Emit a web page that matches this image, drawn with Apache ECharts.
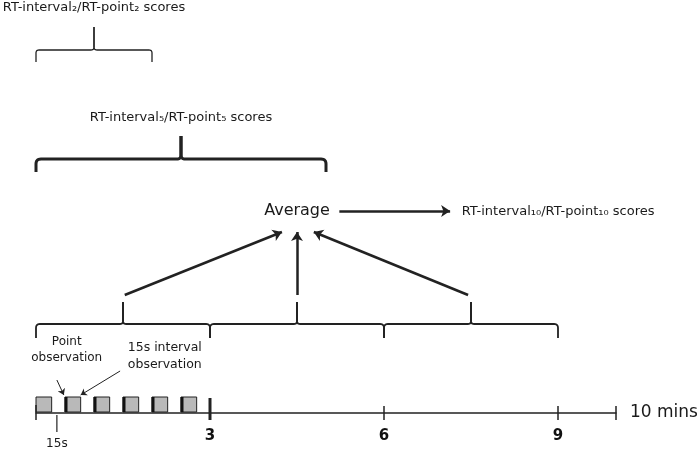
<!DOCTYPE html>
<html><head><meta charset="utf-8">
<script src="https://cdn.jsdelivr.net/npm/echarts@6/dist/echarts.min.js"></script>
<style>html,body{margin:0;padding:0;background:#fff}#c{width:700px;height:451px}</style>
</head><body><div id="c"></div>
<script>
// ---- data (minutes on the time line) ----
const axisMax = 10;
const axisInterval = 3;
const axisLabelValues = [3, 6, 9];
const tickValues = [0, 3, 6, 9, 10];
const majorTick = 3;
const fifteenSecTick = 0.36;
const boxStarts = [0, 0.5, 1, 1.5, 2, 2.5];
const boxLength = 0.27;
const pointMarked = [false, true, true, true, true, true];
const windows3 = [[0, 3], [3, 6], [6, 9]];
const window2 = [0, 2];
const window5 = [0, 5];
const averageAt = 4.5;
const labelRT2 = 'RT-interval₂/RT-point₂ scores';
const labelRT5 = 'RT-interval₅/RT-point₅ scores';
const labelRT10 = 'RT-interval₁₀/RT-point₁₀ scores';
const labelAverage = 'Average';
const labelPoint = 'Point\nobservation';
const labelInterval = '15s interval\nobservation';
const label15s = '15s';
const labelEnd = '10 mins';

// ---- layout rows (vertical units of the hidden y scale) ----
const rows = {
  t2: 8, b2H: 50, b2Peak: 27, b2End: 62,
  t5: 118, b5H: 159, b5Peak: 136, b5End: 172,
  avg: 211, arrowFrom: 295, arrowTo: 232,
  b10H: 324, b10Peak: 302, b10End: 338,
  boxTop: 397, boxBottom: 412, axis: 413
};
const ink = '#222';
const FONT = '"DejaVu Sans", Verdana, sans-serif';

function quad(p0, p1, p2, n) {
  const pts = [];
  for (let i = 1; i <= n; i++) {
    const t = i / n, u = 1 - t;
    pts.push([u*u*p0[0] + 2*u*t*p1[0] + t*t*p2[0], u*u*p0[1] + 2*u*t*p1[1] + t*t*p2[1]]);
  }
  return pts;
}
function braceHalf(xe, xc, yH, yPeak, yEnd, r, rc) {
  const s = xc > xe ? 1 : -1;
  let pts = [[xe, yEnd], [xe, yH + r]];
  pts = pts.concat(quad([xe, yH + r], [xe, yH], [xe + s*r, yH], 6));
  pts.push([xc - s*rc, yH]);
  pts = pts.concat(quad([xc - s*rc, yH], [xc, yH], [xc, yH - rc], 6));
  pts.push([xc, yPeak]);
  return pts;
}
function braceItem(api, a, b, yH, yPeak, yEnd, r, rc, w) {
  const x0 = api.coord([a, yH])[0], x1 = api.coord([b, yH])[0];
  const y = v => api.coord([0, v])[1];
  const xc = (x0 + x1) / 2;
  const st = {stroke: ink, lineWidth: w, fill: null, lineJoin: 'round'};
  return [
    {type: 'polyline', shape: {points: braceHalf(x0, xc, y(yH), y(yPeak), y(yEnd), r, rc)}, style: st},
    {type: 'polyline', shape: {points: braceHalf(x1, xc, y(yH), y(yPeak), y(yEnd), r, rc)}, style: st}
  ];
}

const braceData = [
  {w: window2, rows: ['b2H', 'b2Peak', 'b2End'], r: 3, rc: 3, lw: 1.3},
  {w: window5, rows: ['b5H', 'b5Peak', 'b5End'], r: 5, rc: 4, lw: 3}
].concat(windows3.map(w => ({w: w, rows: ['b10H', 'b10Peak', 'b10End'], r: 4, rc: 3, lw: 1.8})));

const texts = [
  {t: labelRT2, x: (window2[0] + window2[1]) / 2, y: rows.t2, size: 13, align: 'center'},
  {t: labelRT5, x: (window5[0] + window5[1]) / 2, y: rows.t5, size: 13, align: 'center'},
  {t: labelAverage, x: averageAt, y: rows.avg, size: 16, align: 'center'},
  {t: labelRT10, x: averageAt + 2.84, y: rows.avg + 1, size: 13, align: 'left'},
  {t: labelPoint, x: boxStarts[1] + 0.03, y: 350, size: 12, align: 'center', lh: 16},
  {t: labelInterval, x: 2.22, y: 356, size: 12.5, align: 'center', lh: 17},
  {t: label15s, x: fifteenSecTick, y: 444, size: 12, align: 'center'},
  {t: labelEnd, x: axisMax + 0.24, y: rows.axis, size: 17, align: 'left'}
];

const arrowLines = [
  {coords: [[(windows3[0][0] + windows3[0][1]) / 2 + 0.03, rows.arrowFrom], [averageAt - 0.26, rows.arrowTo]]},
  {coords: [[(windows3[1][0] + windows3[1][1]) / 2, rows.arrowFrom], [averageAt, rows.arrowTo]]},
  {coords: [[(windows3[2][0] + windows3[2][1]) / 2 - 0.05, rows.arrowFrom], [averageAt + 0.29, rows.arrowTo]]},
  {coords: [[averageAt + 0.73, rows.avg], [averageAt + 2.64, rows.avg]]}
];
const pointerLines = [
  {coords: [[boxStarts[1] - 0.14, 380], [boxStarts[1] - 0.02, 395]]},
  {coords: [[boxStarts[1] + 0.95, 371], [boxStarts[1] + 0.27, 395]]}
];

const chart = echarts.init(document.getElementById('c'), null, {renderer: 'canvas'});
chart.setOption({
  animation: false,
  backgroundColor: '#fff',
  grid: {left: 36, right: 84, top: 0, bottom: 451 - rows.axis},
  xAxis: {
    type: 'value', min: 0, max: axisMax, interval: axisInterval, position: 'bottom',
    axisLine: {show: true, onZero: false, lineStyle: {color: ink, width: 1.5}},
    axisTick: {show: false}, splitLine: {show: false},
    axisLabel: {
      margin: 16, fontSize: 15, fontWeight: 'bold', color: '#111', fontFamily: FONT,
      formatter: v => axisLabelValues.indexOf(v) >= 0 ? String(v) : ''
    }
  },
  yAxis: {type: 'value', min: 0, max: rows.axis, inverse: true, show: false},
  series: [
    { // braces
      type: 'custom', silent: true, clip: false,
      data: braceData.map((d, i) => [i]),
      renderItem: (params, api) => {
        const d = braceData[params.dataIndex];
        return {type: 'group', children: braceItem(api, d.w[0], d.w[1], rows[d.rows[0]], rows[d.rows[1]], rows[d.rows[2]], d.r, d.rc, d.lw)};
      }
    },
    { // observation boxes
      type: 'custom', silent: true, clip: false,
      data: boxStarts.map((s, i) => [s, s + boxLength, pointMarked[i] ? 1 : 0]),
      renderItem: (params, api) => {
        const p0 = api.coord([api.value(0), rows.boxTop]);
        const p1 = api.coord([api.value(1), rows.boxBottom]);
        const ch = [{type: 'rect', shape: {x: p0[0], y: p0[1], width: p1[0] - p0[0], height: p1[1] - p0[1]},
          style: {fill: '#b9b9b9', stroke: ink, lineWidth: 1}}];
        if (api.value(2)) ch.push({type: 'line', shape: {x1: p0[0] + 1, y1: p0[1], x2: p0[0] + 1, y2: p1[1]},
          style: {stroke: '#111', lineWidth: 3}});
        return {type: 'group', children: ch};
      }
    },
    { // time-line ticks
      type: 'custom', silent: true, clip: false,
      data: tickValues.map(v => [v]).concat([[fifteenSecTick, 1]]),
      renderItem: (params, api) => {
        const v = api.value(0);
        const is15 = api.value(1) === 1;
        const x = api.coord([v, 0])[0];
        const y = t => api.coord([0, t])[1];
        let top = rows.axis - 7, bot = rows.axis + 7, w = 1.5;
        if (v === majorTick) { top = rows.axis - 15; w = 3; }
        if (v === 0) { top = rows.axis - 8; }
        if (is15) { top = rows.axis + 2; bot = rows.axis + 19; w = 1.2; }
        return {type: 'line', shape: {x1: x, y1: y(top), x2: x, y2: y(bot)}, style: {stroke: ink, lineWidth: w}};
      }
    },
    { // texts
      type: 'custom', silent: true, clip: false,
      data: texts.map((t, i) => [t.x, t.y, i]),
      renderItem: (params, api) => {
        const t = texts[params.dataIndex];
        const p = api.coord([t.x, t.y]);
        return {type: 'text', x: p[0], y: p[1], style: {
          text: t.t, fill: '#1a1a1a', font: t.size + 'px ' + FONT, align: t.align,
          verticalAlign: 'middle', lineHeight: t.lh || t.size + 3
        }};
      }
    },
    { // main arrows
      type: 'lines', coordinateSystem: 'cartesian2d', silent: true,
      symbol: ['none', 'arrow'], symbolSize: 9,
      lineStyle: {color: ink, width: 2.5, opacity: 1},
      data: arrowLines
    },
    { // pointer arrows
      type: 'lines', coordinateSystem: 'cartesian2d', silent: true,
      symbol: ['none', 'arrow'], symbolSize: 6,
      lineStyle: {color: ink, width: 1, opacity: 1},
      data: pointerLines
    }
  ]
});
</script></body></html>
